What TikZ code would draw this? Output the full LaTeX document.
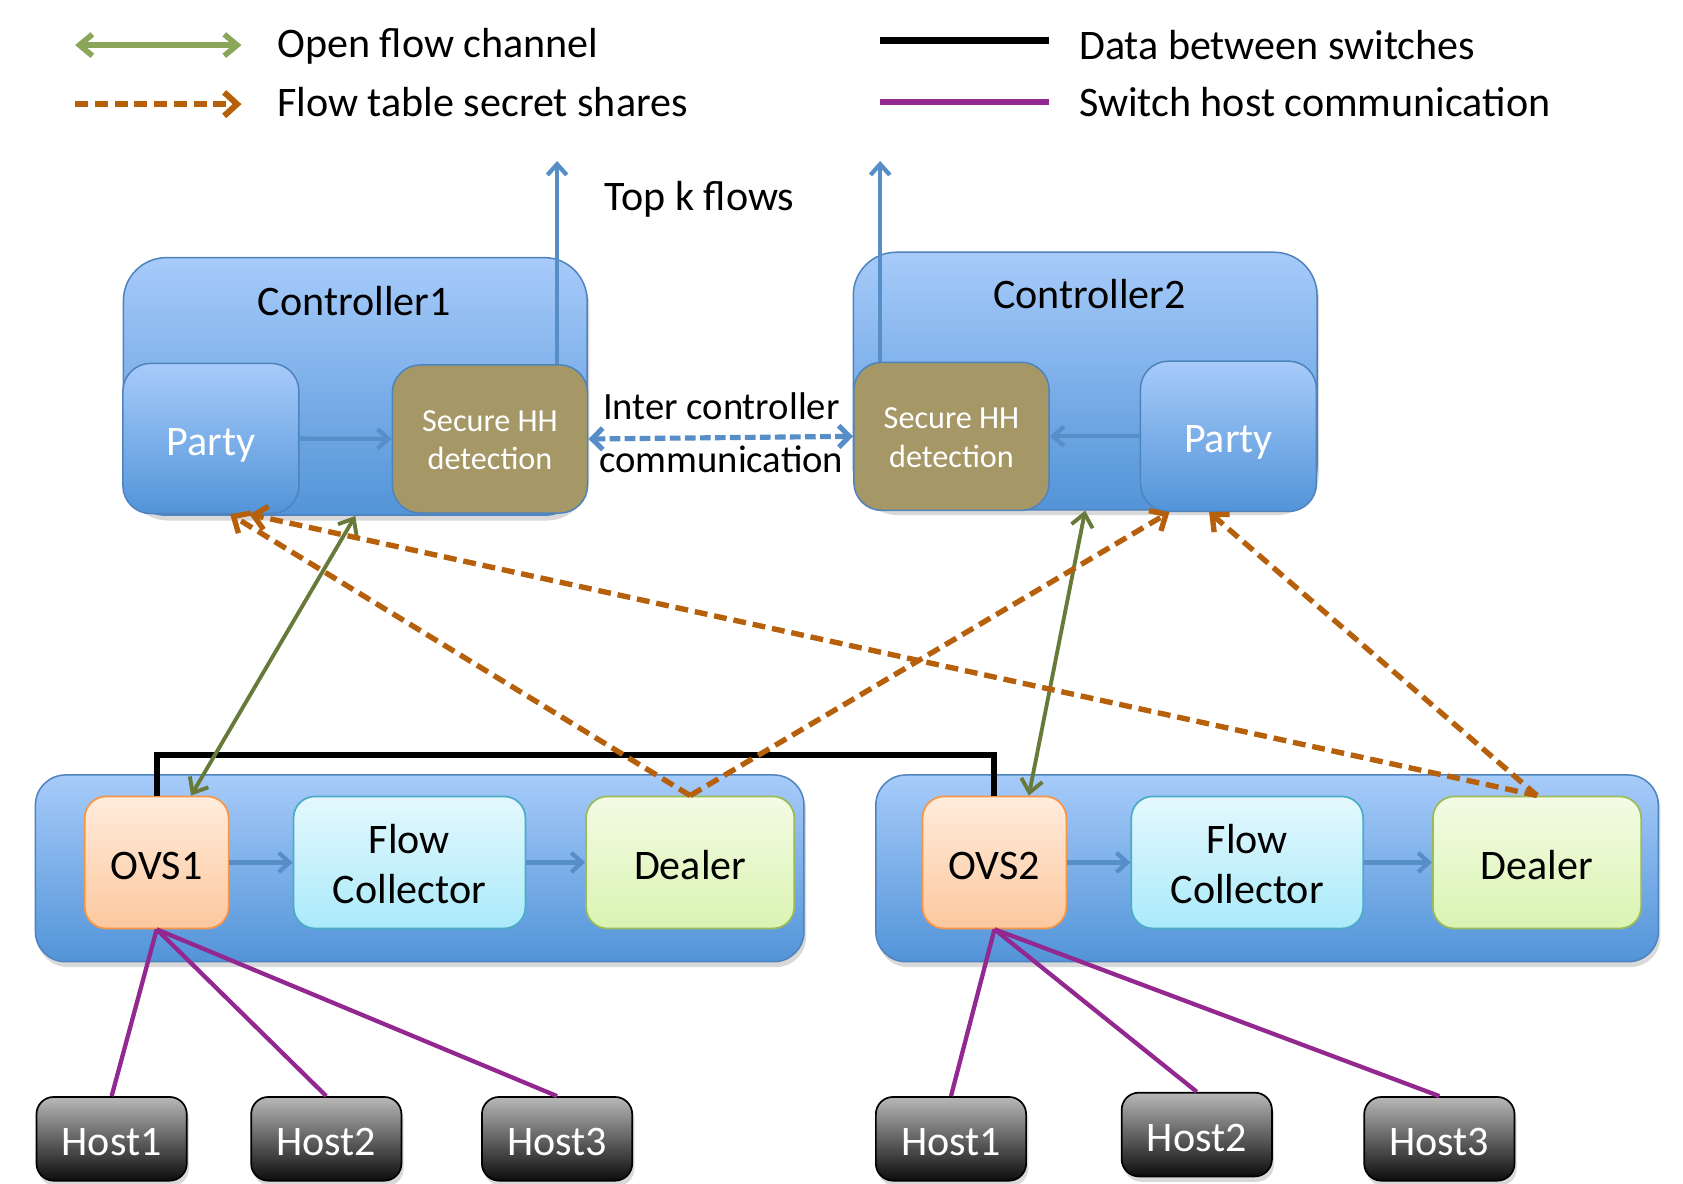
\documentclass[tikz,border=0pt]{standalone}
\usepackage{fontspec}
\setmainfont{Carlito}
\usetikzlibrary{arrows.meta,shadows}

\definecolor{bluetop}{RGB}{167,203,250}
\definecolor{bluebot}{RGB}{82,148,216}
\definecolor{blueline}{RGB}{78,131,190}
\definecolor{bluearrow}{RGB}{88,142,200}
\definecolor{hhfill}{RGB}{165,152,102}
\definecolor{ovstop}{RGB}{255,236,220}
\definecolor{ovsbot}{RGB}{252,200,158}
\definecolor{ovsline}{RGB}{247,150,70}
\definecolor{fctop}{RGB}{228,248,253}
\definecolor{fcbot}{RGB}{170,234,250}
\definecolor{fcline}{RGB}{75,172,198}
\definecolor{dltop}{RGB}{243,251,228}
\definecolor{dlbot}{RGB}{218,244,178}
\definecolor{dlline}{RGB}{155,187,89}
\definecolor{hosttop}{RGB}{184,184,184}
\definecolor{hostbot}{RGB}{12,12,12}
\definecolor{legendgreen}{RGB}{138,166,90}
\definecolor{ofgreen}{RGB}{104,122,58}
\definecolor{shareorange}{RGB}{182,96,12}
\definecolor{hostpurple}{RGB}{147,40,145}

\begin{document}
\begin{tikzpicture}[x=.5pt, y=-.5pt, font=\fontsize{19.6}{23}\selectfont,
   boxshadow/.style={drop shadow={opacity=.3, shadow xshift=1pt, shadow yshift=-2.5pt}},
   oneline/.style={text height=15.5pt, text depth=0pt},
   bluebox/.style={draw=blueline, line width=.7pt, top color=bluetop, bottom color=bluebot},
   ctrlbox/.style={bluebox, boxshadow, rounded corners=20pt, minimum width=216pt, minimum height=120pt},
   swbox/.style={bluebox, boxshadow, rounded corners=14pt, minimum height=87pt},
   partybox/.style={bluebox, oneline, rounded corners=13pt, text=white, minimum width=82pt, minimum height=70pt},
   hhbox/.style={draw=blueline, line width=.7pt, fill=hhfill, rounded corners=13pt, text=white, align=center,
      text height=28.6pt, text depth=0pt, font=\fontsize{15}{18}\selectfont, minimum width=91pt, minimum height=69pt},
   swunit/.style={rounded corners=10pt, line width=.8pt, minimum height=61.5pt},
   ovsbox/.style={swunit, oneline, draw=ovsline, top color=ovstop, bottom color=ovsbot, minimum width=67pt},
   fcbox/.style={swunit, align=center, text height=38pt, text depth=0pt, draw=fcline, top color=fctop,
      bottom color=fcbot, minimum width=108pt},
   dlbox/.style={swunit, oneline, draw=dlline, top color=dltop, bottom color=dlbot, minimum width=97pt},
   hostbox/.style={boxshadow, oneline, draw=black, line width=.8pt, top color=hosttop, bottom color=hostbot,
      rounded corners=8pt, text=white, minimum width=70pt, minimum height=39pt},
   flowarrow/.style={bluearrow, line width=2pt, -{Straight Barb[length=5pt, width=9pt]}},
   icarrow/.style={bluearrow, line width=2.4pt, dash pattern=on 5pt off 2pt,
      {Straight Barb[length=5pt, width=10pt]}-{Straight Barb[length=5pt, width=10pt]}},
   ofarrow/.style={ofgreen, line width=1.8pt, {Straight Barb[length=6pt, width=10pt]}-{Straight Barb[length=6pt, width=10pt]}},
   sharearrow/.style={shareorange, line width=2.5pt, dash pattern=on 6pt off 3.2pt, -{Straight Barb[length=6pt, width=11pt]}},
   switchlink/.style={black, line width=2.8pt},
   hostlink/.style={hostpurple, line width=2pt},
   legendtext/.style={anchor=base west, inner sep=0pt}]
   \useasboundingbox (0,0) rectangle (1568,1103);
   %controllers
   \node[ctrlbox] (ctrl1) at (331,360) {};
   \node[ctrlbox] (ctrl2) at (1011,355) {};
   \node[anchor=base] (ctrl1txt) at (330,294) {Controller1};
   \node[anchor=base] (ctrl2txt) at (1015,287) {Controller2};
   \node[partybox] (party1) at (196.5,408.5) {Party};
   \node[hhbox] (hh1) at (456.5,409) {Secure HH\\detection};
   \node[hhbox] (hh2) at (886.5,406.5) {Secure HH\\detection};
   \node[partybox] (party2) at (1144.5,406.5) {Party};
   \draw[flowarrow] (party1) -- (hh1);
   \draw[flowarrow] (party2) -- (hh2);
   %top k
   \coordinate (topk1) at (519,150);
   \coordinate (topk2) at (820,150);
   \draw[flowarrow] (topk1 |- hh1.north) -- (topk1);
   \draw[flowarrow] (topk2 |- hh2.north) -- (topk2);
   \node[legendtext] (topk) at (563,196) {Top k flows};
   %inter controller
   \draw[icarrow] (hh1.east) -- (hh2.west);
   \node[font=\fontsize{18}{21}\selectfont] (ic1) at (672,378) {Inter controller};
   \node[font=\fontsize{18}{21}\selectfont] (ic2) at (672,428) {communication};
   %switches
   \node[swbox, minimum width=358pt] (sw1) at (391,809) {};
   \node[swbox, minimum width=364.5pt] (sw2) at (1180.5,809) {};
   \node[ovsbox] (ovs1) at (146,803.5) {OVS1};
   \node[fcbox] (fc1) at (381.5,803.5) {Flow\\Collector};
   \node[dlbox] (dealer1) at (643,803.5) {Dealer};
   \node[ovsbox] (ovs2) at (926.5,803.5) {OVS2};
   \node[fcbox] (fc2) at (1162,803.5) {Flow\\Collector};
   \node[dlbox] (dealer2) at (1432,803.5) {Dealer};
   \draw[flowarrow] (ovs1) -- (fc1);
   \draw[flowarrow] (fc1) -- (dealer1);
   \draw[flowarrow] (ovs2) -- (fc2);
   \draw[flowarrow] (fc2) -- (dealer2);
   %hosts
   \node[hostbox] (h11) at (104,1061) {Host1};
   \node[hostbox] (h12) at (304,1061) {Host2};
   \node[hostbox] (h13) at (519,1061) {Host3};
   \node[hostbox] (h21) at (886,1061) {Host1};
   \node[hostbox] (h22) at (1115,1057) {Host2};
   \node[hostbox] (h23) at (1341,1061) {Host3};
   \draw[hostlink] (ovs1.south) -- (h11.north);
   \draw[hostlink] (ovs1.south) -- (h12.north);
   \draw[hostlink] (ovs1.south) -- (h13.north);
   \draw[hostlink] (ovs2.south) -- (h21.north);
   \draw[hostlink] (ovs2.south) -- (h22.north);
   \draw[hostlink] (ovs2.south) -- (h23.north);
   %links
   \coordinate (bus) at (537,703);
   \draw[switchlink] (ovs1.north) |- (bus) -| (ovs2.north);
   \draw[ofarrow] (ctrl1.south) -- ([xshift=16pt]ovs1.north);
   \draw[ofarrow] (ctrl2.south) -- ([xshift=16pt]ovs2.north);
   \draw[sharearrow] (dealer1.north) -- ([xshift=9pt]party1.south);
   \draw[sharearrow] (dealer1.north) -- ([xshift=-27.5pt]party2.south);
   \draw[sharearrow] (dealer2.north) -- ([xshift=18pt]party1.south);
   \draw[sharearrow] (dealer2.north) -- ([xshift=-9pt]party2.south);
   %legend
   \coordinate (lg1) at (70,42); \coordinate (lg2) at (225,42);
   \coordinate (lg3) at (70,97); \coordinate (lg4) at (225,97);
   \coordinate (lg5) at (820,38); \coordinate (lg6) at (977,38);
   \coordinate (lg7) at (820,95); \coordinate (lg8) at (977,95);
   \draw[ofarrow, legendgreen, line width=2.6pt] (lg1) -- (lg2);
   \draw[sharearrow, line width=2.8pt] (lg3) -- (lg4);
   \draw[switchlink, line width=3.4pt] (lg5) -- (lg6);
   \draw[hostlink, line width=2.4pt] (lg7) -- (lg8);
   \node[legendtext] (lt1) at (258,54) {Open flow channel};
   \node[legendtext] (lt2) at (258,109) {Flow table secret shares};
   \node[legendtext] (lt3) at (1005,55) {Data between switches};
   \node[legendtext] (lt4) at (1005,109) {Switch host communication};
\end{tikzpicture}
\end{document}
